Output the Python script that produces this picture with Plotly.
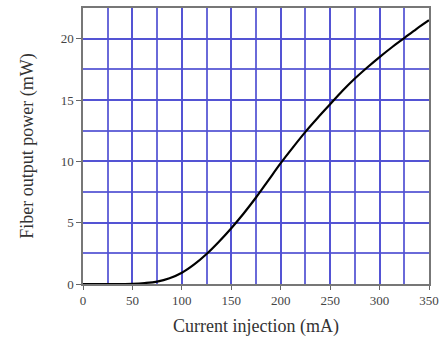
import plotly.graph_objects as go

current_ma = [0, 25, 50, 62.5, 75, 87.5, 100, 112.5, 125, 137.5, 150, 162.5, 175, 187.5, 200, 212.5, 225, 237.5, 250, 262.5, 275, 287.5, 300, 312.5, 325, 337.5, 350]
power_mw = [0, 0, 0.02, 0.08, 0.2, 0.47, 0.92, 1.6, 2.45, 3.45, 4.55, 5.75, 7.05, 8.45, 9.85, 11.15, 12.4, 13.55, 14.65, 15.75, 16.75, 17.65, 18.5, 19.3, 20.05, 20.8, 21.5]

x_ticks = [0, 50, 100, 150, 200, 250, 300, 350]
y_ticks = [0, 5, 10, 15, 20]

grid_color = "rgba(80,80,210,0.85)"
font_family = "Liberation Serif, Times New Roman, serif"

fig = go.Figure()
fig.add_trace(go.Scatter(x=current_ma, y=power_mw, mode="lines",
                         line=dict(color="black", width=2.2, shape="spline", smoothing=1.0),
                         showlegend=False))

fig.update_layout(
    width=445, height=339,
    margin=dict(l=83, r=16, t=6, b=55),
    paper_bgcolor="white", plot_bgcolor="white",
    font=dict(family=font_family, size=13, color="#333"),
)
fig.update_xaxes(
    range=[0, 350], tickvals=x_ticks, ticktext=[str(v) for v in x_ticks],
    showgrid=True, gridcolor=grid_color, gridwidth=1.5,
    minor=dict(dtick=25, tick0=0, showgrid=True, gridcolor=grid_color, gridwidth=1.5),
    ticks="outside", ticklen=4, tickcolor="#666",
    showline=True, linecolor="#777", linewidth=1.5, mirror=True,
    zeroline=False,
    title=dict(text="Current injection (mA)", font=dict(size=18, family=font_family, color="#333"), standoff=12),
    tickfont=dict(size=13, family=font_family, color="#444"),
)
fig.update_yaxes(
    range=[0, 22.5], tickvals=y_ticks, ticktext=[str(v) for v in y_ticks],
    showgrid=True, gridcolor=grid_color, gridwidth=1.5,
    minor=dict(dtick=2.5, tick0=0, showgrid=True, gridcolor=grid_color, gridwidth=1.5),
    ticks="outside", ticklen=5, tickcolor="#666",
    showline=True, linecolor="#777", linewidth=1.5, mirror=True,
    zeroline=False,
    title=dict(text="Fiber output power (mW)", font=dict(size=18, family=font_family, color="#333"), standoff=22),
    tickfont=dict(size=13, family=font_family, color="#444"),
)

fig.write_html("out.html")
